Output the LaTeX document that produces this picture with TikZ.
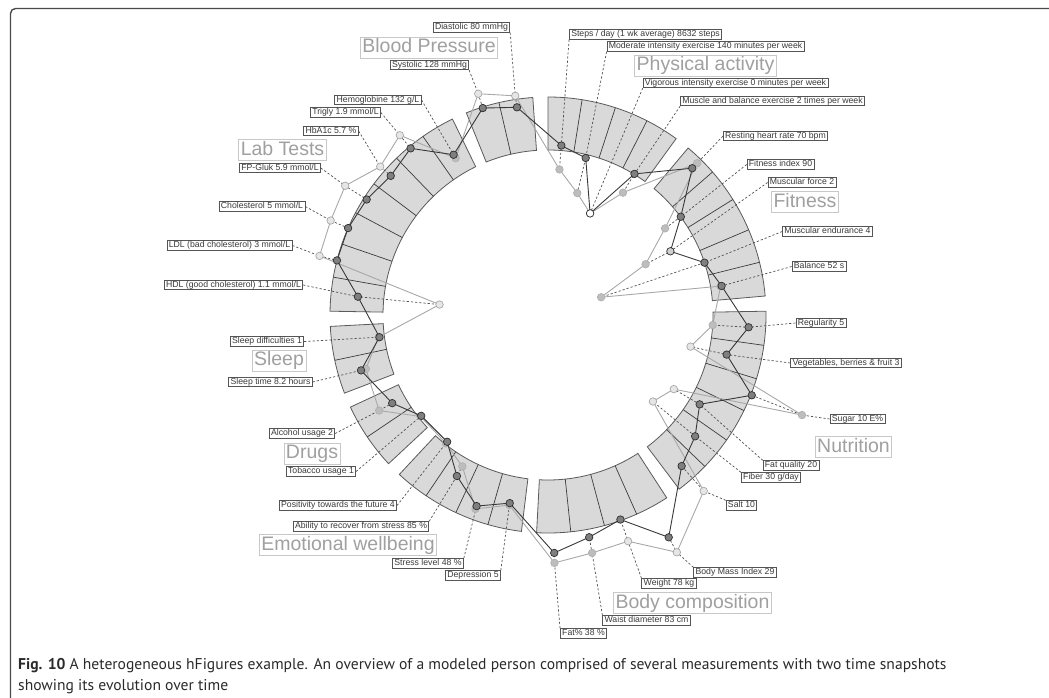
\documentclass[tikz,border=0pt]{standalone}
\usepackage{fontspec}
\setmainfont{Liberation Sans}
\newfontfamily\capfont{PT Sans}
\definecolor{secfill}{HTML}{D9D9D9}
\definecolor{secdraw}{HTML}{5A5A5A}
\definecolor{divline}{HTML}{3C3C3C}
\definecolor{darkln}{HTML}{383838}
\definecolor{lightln}{HTML}{A8A8A8}
\definecolor{dkfill}{HTML}{7F7F7F}
\definecolor{dkdraw}{HTML}{2E2E2E}
\definecolor{dkpalefill}{HTML}{CFCFCF}
\definecolor{lgfill}{HTML}{BDBDBD}
\definecolor{lgdraw}{HTML}{B0B0B0}
\definecolor{lwfill}{HTML}{E6E6E6}
\definecolor{lwdraw}{HTML}{A8A8A8}
\definecolor{leadc}{HTML}{505050}
\definecolor{lbltext}{HTML}{3A3A3A}
\definecolor{lbldraw}{HTML}{555555}
\definecolor{cattext}{HTML}{A0A0A0}
\definecolor{catdraw}{HTML}{C8C8C8}
\definecolor{framec}{HTML}{4A4A4A}
\definecolor{captext}{HTML}{2A2A2A}
\tikzset{
 sector/.style={fill=secfill, draw=secdraw, line width=0.8pt},
 divider/.style={draw=divline, line width=0.7pt},
 darkpoly/.style={draw=darkln, line width=0.9pt, line join=round},
 lightpoly/.style={draw=lightln, line width=0.9pt, line join=round},
 dkdot/.style={circle, fill=dkfill, draw=dkdraw, line width=0.7pt, minimum size=7.5pt, inner sep=0pt},
 dkpale/.style={dkdot, fill=dkpalefill},
 dkwhite/.style={dkdot, fill=white},
 lgdot/.style={circle, fill=lgfill, draw=lgdraw, line width=0.7pt, minimum size=7.5pt, inner sep=0pt},
 lwdot/.style={lgdot, fill=lwfill, draw=lwdraw},
 leader/.style={draw=leadc, line width=0.7pt, dash pattern=on 2.2pt off 2pt},
 mlabel/.style={draw=lbldraw, fill=white, line width=0.8pt, text=lbltext, font=\fontsize{8.7}{9}\selectfont, inner xsep=1.8pt, inner ysep=0.6pt, text height=6.6pt, text depth=1.8pt},
 catlabel/.style={draw=catdraw, fill=white, line width=0.8pt, text=cattext, font=\fontsize{19.5}{20}\selectfont, inner xsep=2pt, inner ysep=1pt, text height=14.5pt, text depth=4.5pt},
 capline/.style={anchor=base west, inner sep=0pt, text=captext, font=\capfont\fontsize{15.6}{21}\selectfont},
 framestyle/.style={draw=framec, line width=1.4pt, rounded corners=5pt},
}
\begin{document}
\begin{tikzpicture}[x=1pt,y=-1pt]
\useasboundingbox (0,0) rectangle (1049,698);
\draw[framestyle] (1055,8.5) -- (10.5,8.5) -- (10.5,705);
\begin{scope}[shift={(548,315)}]
 % sectors
 \foreach \s/\e in {-90/-54,-50/-5,-1/53,57/93,97/133,137/155,159/177,181/244,248/266}
  \path[sector] (\s:165) -- (\s:218) arc[start angle=\s, end angle=\e, radius=218] -- (\e:165) arc[start angle=\e, end angle=\s, radius=165] -- cycle;
 \foreach \a in {-81,-72,-63,-41,-32,-23,-14,8,17,26,35,44,66,75,84,106,115,124,146,168,190,199,208,217,226,235,257}
  \draw[divider] (\a:165) -- (\a:218);
 % dot positions
 \foreach \n/\a/\rd/\rl in {1/-85.5/170/146, 2/-76.5/161.5/125.4, 3/-67.5/110/110, 4/-58.5/165.5/143.5,
   5/-45.5/205.8/212.8, 6/-36.5/165.2/145.6, 7/-27.5/138/110, 8/-18.5/165/56, 9/-9.5/176/175,
   10/3.5/201/165, 11/12.5/183/146, 12/21.5/219/273, 13/30.5/176/146, 14/39.5/190.7/136, 15/48.5/201.7/235,
   16/61.5/253/270, 17/70.5/217/240, 18/79.5/226/242, 19/88.5/238/248,
   20/101.5/192/194, 21/110.5/204/207, 22/119.5/185/174, 23/128.5/162/164,
   24/141.5/162/163, 25/150.5/179/194, 26/163.5/195/190, 27/172.5/170/171,
   28/185.5/191/109, 29/194.5/218/236, 30/203.5/218/237, 31/212.5/215/240.5, 32/221.5/210/224, 33/230.5/216/233, 34/239.5/186/182,
   35/252.5/217/232, 36/261.5/210/221.6}
  {\coordinate (pD\n) at (\a:\rd); \coordinate (pL\n) at (\a:\rl);}
\end{scope}
% measurement labels
\node[mlabel] (t1) at (645.5,34.5) {Steps / day (1 wk average) 8632 steps};
\node[mlabel] (t2) at (705.5,46.5) {Moderate intensity exercise 140 minutes per week};
\node[mlabel] (t3) at (735.5,83) {Vigorous intensity exercise 0 minutes per week};
\node[mlabel] (t4) at (772.5,101) {Muscle and balance exercise 2 times per week};
\node[mlabel] (t5) at (775.5,136) {Resting heart rate 70 bpm};
\node[mlabel] (t6) at (780.5,164.5) {Fitness index 90};
\node[mlabel] (t7) at (802,182.5) {Muscular force 2};
\node[mlabel] (t8) at (827.5,231.5) {Muscular endurance 4};
\node[mlabel] (t9) at (819,266.5) {Balance 52 s};
\node[mlabel] (t10) at (821,323) {Regularity 5};
\node[mlabel] (t11) at (846,363) {Vegetables, berries \& fruit 3};
\node[mlabel] (t12) at (857.5,419) {Sugar 10 E\%};
\node[mlabel] (t13) at (791,465.5) {Fat quality 20};
\node[mlabel] (t14) at (771,477.5) {Fiber 30 g/day};
\node[mlabel] (t15) at (741.5,505.5) {Salt 10};
\node[mlabel] (t16) at (735,572.5) {Body Mass Index 29};
\node[mlabel] (t17) at (669,583.5) {Weight 78 kg};
\node[mlabel] (t18) at (646.5,620.5) {Waist diameter 83 cm};
\node[mlabel] (t19) at (583.5,633.5) {Fat\% 38 \%};
\node[mlabel] (t20) at (473,575.5) {Depression 5};
\node[mlabel] (t21) at (428,563.5) {Stress level 48 \%};
\node[mlabel] (t22) at (361,526.5) {Ability to recover from stress 85 \%};
\node[mlabel] (t23) at (338,505.5) {Positivity towards the future 4};
\node[mlabel] (t24) at (321,471.5) {Tobacco usage 1};
\node[mlabel] (t25) at (302,433.5) {Alcohol usage 2};
\node[mlabel] (t26) at (270.5,382) {Sleep time 8.2 hours};
\node[mlabel] (t27) at (267,341.5) {Sleep difficulties 1};
\node[mlabel] (t28) at (233.5,285) {HDL (good cholesterol) 1.1 mmol/L};
\node[mlabel] (t29) at (229.5,245.5) {LDL (bad cholesterol) 3 mmol/L};
\node[mlabel] (t30) at (262,206.5) {Cholesterol 5 mmol/L};
\node[mlabel] (t31) at (280,168) {FP-Gluk 5.9 mmol/L};
\node[mlabel] (t32) at (331,131) {HbA1c 5.7 \%};
\node[mlabel] (t33) at (345.5,112.5) {Trigly 1.9 mmol/L};
\node[mlabel] (t34) at (378,100) {Hemoglobine 132 g/L};
\node[mlabel] (t35) at (429.5,65) {Systolic 128 mmHg};
\node[mlabel] (t36) at (471.5,27.5) {Diastolic 80 mmHg};
% category labels
\node[catlabel] (c1) at (705.5,65.5) {Physical activity};
\node[catlabel] (c2) at (805,202) {Fitness};
\node[catlabel] (c3) at (853.5,447) {Nutrition};
\node[catlabel] (c4) at (692.5,603) {Body composition};
\node[catlabel] (c5) at (348,545) {Emotional wellbeing};
\node[catlabel] (c6) at (312,453.5) {Drugs};
\node[catlabel] (c7) at (279,360.5) {Sleep};
\node[catlabel] (c8) at (282.5,150) {Lab Tests};
\node[catlabel] (c9) at (429,47.5) {Blood Pressure};
% leaders
\draw[leader] (t1.south west) -- (pD1) -- (pL1);
\draw[leader] (t2.south west) -- (pD2) -- (pL2);
\draw[leader] (t3.south west) -- (pD3);
\draw[leader] (t4.south west) -- (pD4) -- (pL4);
\draw[leader] (t5.west) -- (pL5) -- (pD5);
\draw[leader] (t6.west) -- (pD6) -- (pL6);
\draw[leader] (t7.west) -- (pD7) -- (pL7);
\draw[leader] (t8.west) -- (pD8) -- (pL8);
\draw[leader] (t9.west) -- (pD9);
\draw[leader] (t10.west) -- (pD10) -- (pL10);
\draw[leader] (t11.west) -- (pD11) -- (pL11);
\draw[leader] (t12.west) -- (pL12) -- (pD12);
\draw[leader] (t13.north west) -- (pD13) -- (pL13);
\draw[leader] (t14.north west) -- (pD14) -- (pL14);
\draw[leader] (t15.north west) -- (pL15) -- (pD15);
\draw[leader] (t16.north west) -- (pL16) -- (pD16);
\draw[leader] (t17.north west) -- (pL17) -- (pD17);
\draw[leader] (t18.north west) -- (pL18) -- (pD18);
\draw[leader] (t19.north west) -- (pL19) -- (pD19);
\draw[leader] (t20.north east) -- (pD20);
\draw[leader] (t21.north east) -- (pD21);
\draw[leader] (t22.north east) -- (pD22) -- (pL22);
\draw[leader] (t23.east) -- (pD23);
\draw[leader] (t24.east) -- (pD24);
\draw[leader] (t25.east) -- (pL25) -- (pD25);
\draw[leader] (t26.east) -- (pD26) -- (pL26);
\draw[leader] (t27.east) -- (pD27);
\draw[leader] (t28.east) -- (pD28) -- (pL28);
\draw[leader] (t29.east) -- (pL29) -- (pD29);
\draw[leader] (t30.east) -- (pL30) -- (pD30);
\draw[leader] (t31.east) -- (pL31) -- (pD31);
\draw[leader] (t32.east) -- (pL32) -- (pD32);
\draw[leader] (t33.east) -- (pL33) -- (pD33);
\draw[leader] (t34.east) -- (pD34);
\draw[leader] (t35.south east) -- (pL35) -- (pD35);
\draw[leader] (t36.south east) -- (pL36) -- (pD36);
% polylines
\draw[lightpoly] (pL1) \foreach \i in {2,...,36} { -- (pL\i) } -- cycle;
\foreach \n/\s in {1/lgdot,2/lgdot,3/lgdot,4/lgdot,5/lgdot,6/lgdot,7/lgdot,8/lgdot,9/lgdot,10/lgdot,11/lwdot,12/lgdot,13/lwdot,14/lwdot,15/lwdot,16/lwdot,17/lwdot,18/lgdot,19/lgdot,20/lgdot,21/lgdot,22/lgdot,23/lgdot,24/lgdot,25/lgdot,26/lgdot,27/lgdot,28/lwdot,29/lwdot,30/lwdot,31/lwdot,32/lwdot,33/lwdot,34/lgdot,35/lwdot,36/lwdot}
  \node[\s] (dL\n) at (pL\n) {};
\draw[darkpoly] (pD1) \foreach \i in {2,...,36} { -- (pD\i) } -- cycle;
\foreach \n/\s in {1/dkdot,2/dkdot,3/dkwhite,4/dkdot,5/dkdot,6/dkdot,7/dkpale,8/dkdot,9/dkdot,10/dkdot,11/dkdot,12/dkdot,13/dkdot,14/dkdot,15/dkdot,16/dkdot,17/dkdot,18/dkdot,19/dkdot,20/dkdot,21/dkdot,22/dkdot,23/dkdot,24/dkdot,25/dkdot,26/dkdot,27/dkdot,28/dkdot,29/dkdot,30/dkdot,31/dkdot,32/dkdot,33/dkdot,34/dkdot,35/dkdot,36/dkdot}
  \node[\s] (dD\n) at (pD\n) {};
% caption
\node[capline] (cap1) at (18,669) {{\bfseries Fig. 10} A heterogeneous hFigures example. An overview of a modeled person comprised of several measurements with two time snapshots};
\node[capline] (cap2) at (18,690) {showing its evolution over time};
\end{tikzpicture}
\end{document}
